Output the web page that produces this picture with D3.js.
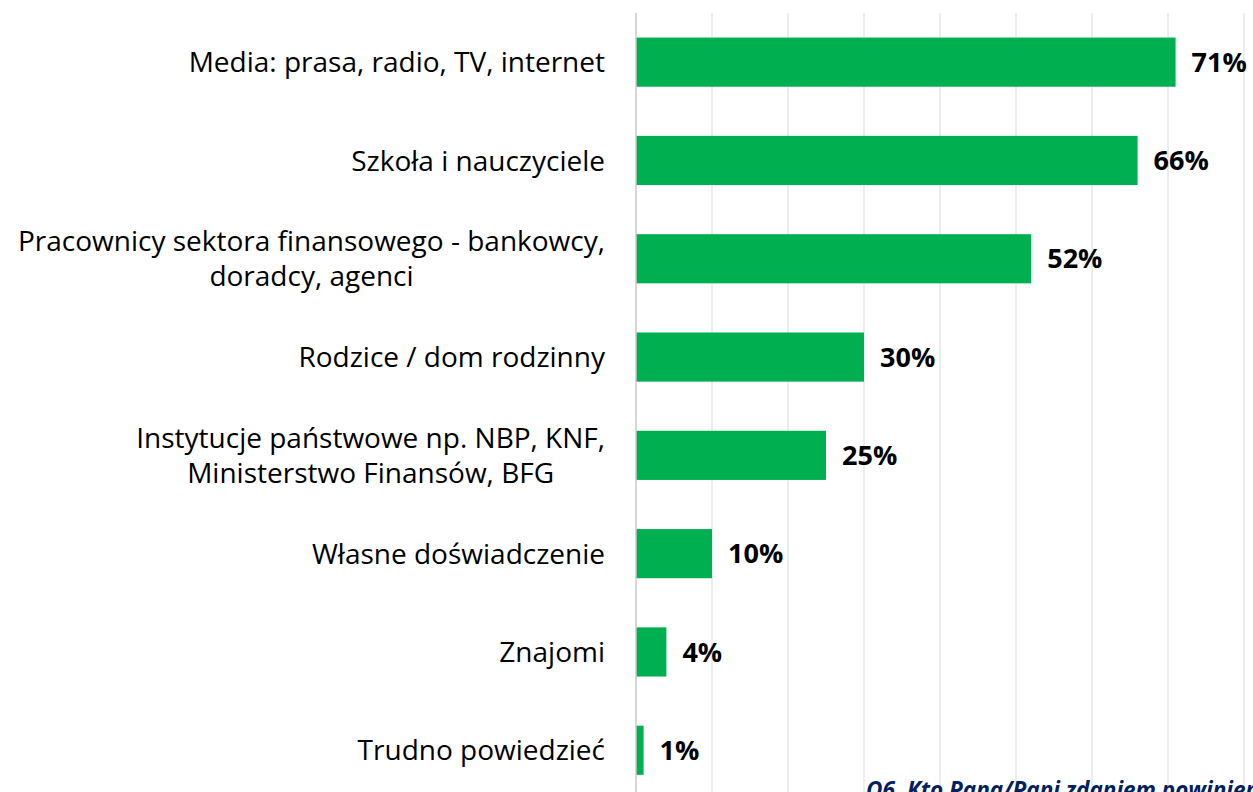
<!DOCTYPE html>
<html><head><meta charset="utf-8">
<script src="https://cdn.jsdelivr.net/npm/d3@7/dist/d3.min.js"></script>
<style>
html,body{margin:0;padding:0;background:#fff;overflow:hidden;}
svg{display:block;}
</style></head>
<body>
<svg id="c" width="1253" height="792"></svg>
<script>
const categories = [
  ["Media: prasa, radio, TV, internet"],
  ["Szkoła i nauczyciele"],
  ["Pracownicy sektora finansowego - bankowcy,", "doradcy, agenci"],
  ["Rodzice / dom rodzinny"],
  ["Instytucje państwowe np. NBP, KNF,", "Ministerstwo Finansów, BFG"],
  ["Własne doświadczenie"],
  ["Znajomi"],
  ["Trudno powiedzieć"]
];
const values = [71, 66, 52, 30, 25, 10, 4, 1];
const xTicks = [0, 10, 20, 30, 40, 50, 60, 70, 80];
const footnote = "Q6. Kto Pana/Pani zdaniem powinien uczyć Polaków o finansach?";

(function () {
const svg = d3.select("#c");
const font = "'Open Sans', Lato, sans-serif";
const plotLeft = 636, plotTop = 13, step = 98.3;
const x = d3.scaleLinear().domain([0, 80]).range([plotLeft, plotLeft + 8 * 76.0]);
const y = d3.scaleBand().domain(d3.range(categories.length))
  .range([plotTop, plotTop + step * categories.length]).paddingInner(0.5).paddingOuter(0.25);

svg.append("g").selectAll("line").data(xTicks.slice(1)).join("line")
  .attr("x1", d => x(d)).attr("x2", d => x(d))
  .attr("y1", plotTop).attr("y2", 800)
  .attr("stroke", "#e3e3e3").attr("stroke-width", 1.3);

svg.append("g").selectAll("rect").data(values).join("rect")
  .attr("x", x(0)).attr("y", (d, i) => y(i))
  .attr("width", d => x(d) - x(0)).attr("height", y.bandwidth())
  .attr("fill", "#00B050");

svg.append("line").attr("x1", x(0)).attr("x2", x(0)).attr("y1", plotTop).attr("y2", 800)
  .attr("stroke", "#c8c8c8").attr("stroke-width", 1.5);

svg.append("g").selectAll("text").data(values).join("text")
  .attr("x", d => x(d) + 16).attr("y", (d, i) => y(i) + y.bandwidth() / 2)
  .attr("dy", "0.36em")
  .attr("font-family", font).attr("font-weight", "bold").attr("font-size", 27)
  .attr("fill", "#000").text(d => d + "%");

const labelRight = 605, lineH = 35;
categories.forEach((lines, i) => {
  const g = svg.append("g");
  const cy = y(i) + y.bandwidth() / 2;
  const texts = lines.map((t, j) => g.append("text")
    .attr("font-family", font).attr("font-size", 28).attr("fill", "#000")
    .attr("y", cy + (j - (lines.length - 1) / 2) * lineH).attr("dy", "0.36em")
    .text(t));
  const widths = texts.map(t => t.node().getComputedTextLength());
  const maxW = d3.max(widths);
  const center = labelRight - maxW / 2;
  texts.forEach(t => t.attr("x", center).attr("text-anchor", "middle"));
});

svg.append("text").attr("x", 866).attr("y", 798)
  .attr("font-family", font).attr("font-size", 22.5).attr("font-weight", "bold")
  .attr("font-style", "italic").attr("fill", "#002060").text(footnote);
})();
</script>
</body></html>
